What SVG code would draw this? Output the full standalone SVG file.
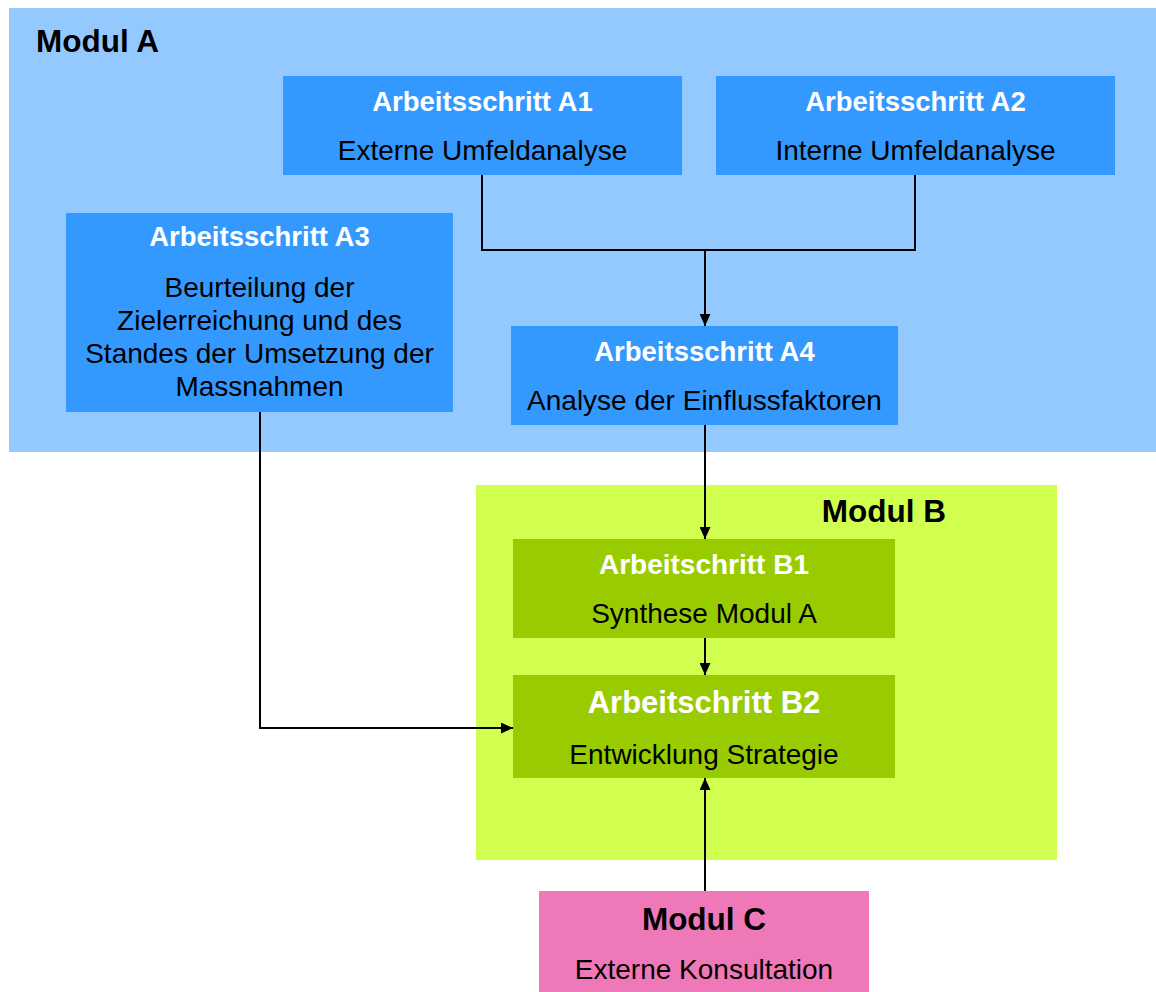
<svg xmlns="http://www.w3.org/2000/svg" width="1156" height="992" viewBox="0 0 1156 992">
<defs>
<style>
.t{font-family:"Liberation Sans",Arial,sans-serif;text-anchor:middle}
.h{font-weight:bold;fill:#fff;font-size:27.5px}
.s{fill:#000;font-size:28px}
.m{font-family:"Liberation Sans",Arial,sans-serif;font-weight:bold;font-size:31.5px;fill:#000}
.blue{fill:#3399FF}
.green{fill:#99CC00}
.c{fill:none;stroke:#000;stroke-width:2}
</style>
<marker id="ah" markerWidth="12" markerHeight="11" refX="12" refY="5.5" orient="auto" markerUnits="userSpaceOnUse">
<path d="M0,0 L12,5.5 L0,11 Z" fill="#000"/>
</marker>
</defs>
<rect width="1156" height="992" fill="#fff"/>
<g id="modulA">
<rect x="9" y="8" width="1147" height="444" fill="#94C9FF"/>
<text class="m" x="36" y="52">Modul A</text>
</g>
<g id="modulB">
<rect x="476" y="485" width="581" height="375" fill="#D1FF4F"/>
<text class="m" x="946" y="522" text-anchor="end">Modul B</text>
</g>
<g id="A1">
<rect class="blue" x="283" y="76" width="399" height="99"/>
<text class="t h" x="482.5" y="111">Arbeitsschritt A1</text>
<text class="t s" x="482.5" y="160">Externe Umfeldanalyse</text>
</g>
<g id="A2">
<rect class="blue" x="716" y="76" width="399" height="99"/>
<text class="t h" x="915.5" y="111">Arbeitsschritt A2</text>
<text class="t s" x="915.5" y="160">Interne Umfeldanalyse</text>
</g>
<g id="A3">
<rect class="blue" x="66" y="213" width="387" height="199"/>
<text class="t h" x="259.5" y="246">Arbeitsschritt A3</text>
<text class="t s" x="259.5" y="297">Beurteilung der</text>
<text class="t s" x="259.5" y="330">Zielerreichung und des</text>
<text class="t s" x="259.5" y="363">Standes der Umsetzung der</text>
<text class="t s" x="259.5" y="396">Massnahmen</text>
</g>
<g id="A4">
<rect class="blue" x="511" y="326" width="387" height="99"/>
<text class="t h" x="704.5" y="361">Arbeitsschritt A4</text>
<text class="t s" x="704.5" y="410">Analyse der Einflussfaktoren</text>
</g>
<g id="B1">
<rect class="green" x="513" y="539" width="382" height="99"/>
<text class="t h" x="704" y="574" style="font-size:28px">Arbeitschritt B1</text>
<text class="t s" x="704" y="623">Synthese Modul A</text>
</g>
<g id="B2">
<rect class="green" x="513" y="675" width="382" height="103"/>
<text class="t h" x="704" y="713" style="font-size:31px">Arbeitschritt B2</text>
<text class="t s" x="704" y="764">Entwicklung Strategie</text>
</g>
<g id="modulC">
<rect x="539" y="891" width="330" height="101" fill="#EF78B9"/>
<text class="t" x="704" y="930" style="font-weight:bold;font-size:31.5px">Modul C</text>
<text class="t s" x="704" y="979">Externe Konsultation</text>
</g>
<g id="connectors">
<path class="c" d="M482,175 V250 H915 V175"/>
<path class="c" d="M705,250 V326" marker-end="url(#ah)"/>
<path class="c" d="M705,425 V539" marker-end="url(#ah)"/>
<path class="c" d="M705,638 V675" marker-end="url(#ah)"/>
<path class="c" d="M260,412 V728 H513" marker-end="url(#ah)"/>
<path class="c" d="M705,891 V778" marker-end="url(#ah)"/>
</g>
</svg>
